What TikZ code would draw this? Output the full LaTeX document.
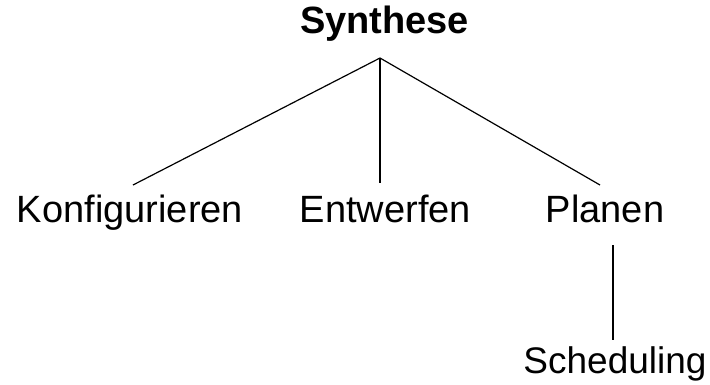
\documentclass[tikz,border=0pt]{standalone}
\usepackage{fontspec}
\setmainfont{Liberation Sans}
\begin{document}
\begin{tikzpicture}[x=1pt,y=-1pt,
  lbl/.style={anchor=base,inner sep=0pt,font=\fontsize{38}{42}\selectfont},
  edge/.style={line width=1.2pt}]
\useasboundingbox (0,0) rectangle (710,384);
\node[lbl,font=\fontsize{38}{42}\selectfont\bfseries] (syn) at (384.5,33) {Synthese};
\node[lbl] (konf) at (130,222) {Konfigurieren};
\node[lbl] (entw) at (385.5,222) {Entwerfen};
\node[lbl] (plan) at (605,222) {Planen};
\node[lbl,font=\fontsize{37}{42}\selectfont] (sched) at (615,373) {Scheduling};
\coordinate (top) at (380,58);
\coordinate (kt) at (133,185);
\coordinate (et) at (380,183);
\coordinate (pt) at (600,185);
\coordinate (pb) at (613,245);
\coordinate (st) at (613,340);
\draw[edge] (top) -- (kt);
\draw[edge] (top) -- (et);
\draw[edge] (top) -- (pt);
\draw[edge] (pb) -- (st);
\end{tikzpicture}
\end{document}
